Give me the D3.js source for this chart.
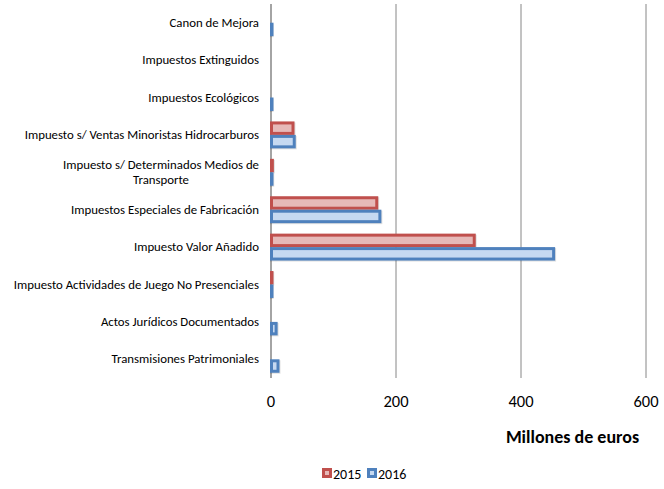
<!DOCTYPE html>
<html><head><meta charset="utf-8">
<script src="https://cdn.jsdelivr.net/npm/d3@7"></script>
<style>
body{margin:0;background:#fff;}
text{font-family:Carlito,Lato,"Open Sans",sans-serif;fill:#000;}
</style></head>
<body><svg id="c" width="664" height="489"></svg>
<script>
const categories = [
  ["Canon de Mejora"],
  ["Impuestos Extinguidos"],
  ["Impuestos Ecológicos"],
  ["Impuesto s/ Ventas Minoristas Hidrocarburos"],
  ["Impuesto s/ Determinados Medios de", "Transporte"],
  ["Impuestos Especiales de Fabricación"],
  ["Impuesto Valor Añadido"],
  ["Impuesto Actividades de Juego No Presenciales"],
  ["Actos Jurídicos Documentados"],
  ["Transmisiones Patrimoniales"]
];
const values2015 = [0, 0, 0, 36, 3, 170, 326, 2, 0, 0];
const values2016 = [1, 0, 1, 38, 2, 175, 453, 1, 9, 12];
const seriesNames = ["2015", "2016"];
const xTicks = [0, 200, 400, 600];
const axisTitle = "Millones de euros";

const fills = ["#e6b9b8", "#c6d9f1"];
const strokes = ["#c0504d", "#4f81bd"];

const svg = d3.select("#c");
const pL = 271, pR = 646, pT = 4, pB = 378;
const x = d3.scaleLinear().domain([0, 600]).range([pL, pR]);
const y = d3.scaleBand().domain(d3.range(categories.length)).range([pT, pB]).paddingInner(0.28).paddingOuter(0.14);
const ys = d3.scaleBand().domain([0, 1]).range([0, y.bandwidth()]);

// gridlines
svg.append("g").selectAll("line").data(xTicks).join("line")
  .attr("x1", d => x(d)).attr("x2", d => x(d))
  .attr("y1", pT).attr("y2", pB)
  .attr("stroke", "#868686").attr("stroke-width", d => d===0?1.5:1);

// tick labels
svg.append("g").selectAll("text").data(xTicks).join("text")
  .attr("x", d => x(d)).attr("y", 407).attr("text-anchor", "middle")
  .attr("font-size", 16.5).text(d => d);

svg.append("text").attr("x", 572.5).attr("y", 443).attr("text-anchor", "middle")
  .attr("font-size", 18).attr("font-weight", "bold").text(axisTitle);

// bars
const series = [values2015, values2016];
series.forEach((vals, s) => {
  const data = vals.map((v, i) => ({v, i})).filter(d => d.v > 0);
  const g = svg.append("g");
  g.selectAll("rect.sh").data(data).join("rect")
    .attr("x", x(0) + 0.5).attr("y", d => y(d.i) + ys(s) + 2.5)
    .attr("width", d => Math.max(0.5, x(d.v) - x(0)))
    .attr("height", ys.bandwidth() - 3)
    .attr("fill", "none").attr("stroke", "#000").attr("stroke-opacity", 0.12).attr("stroke-width", 3);
  g.selectAll("rect.b").data(data).join("rect")
    .attr("x", x(0) + 0.5).attr("y", d => y(d.i) + ys(s) + 1.5)
    .attr("width", d => Math.max(0.5, x(d.v) - x(0) - 1))
    .attr("height", ys.bandwidth() - 3)
    .attr("fill", fills[s]).attr("stroke", strokes[s]).attr("stroke-width", 3);
});

// category labels
const lab = svg.append("g");
categories.forEach((lines, i) => {
  const cy = y(i) + y.bandwidth() / 2;
  const lh = 14.5;
  const t0 = cy - (lines.length - 1) * lh / 2 + 4;
  const first = lab.append("text").attr("x", 259).attr("y", t0).attr("text-anchor", "end")
    .attr("font-size", 12.8).text(lines[0]);
  if (lines.length > 1) {
    const w = first.node().getComputedTextLength();
    for (let k = 1; k < lines.length; k++) {
      lab.append("text").attr("x", 259 - w / 2).attr("y", t0 + k * lh).attr("text-anchor", "middle")
        .attr("font-size", 12.8).text(lines[k]);
    }
  }
});

// legend
const leg = svg.append("g");
const legX = [322, 367];
seriesNames.forEach((n, s) => {
  leg.append("rect").attr("x", legX[s] + 1.5).attr("y", 469.5).attr("width", 7).attr("height", 7)
    .attr("fill", fills[s]).attr("stroke", strokes[s]).attr("stroke-width", 3);
  leg.append("text").attr("x", legX[s] + 11).attr("y", 479).attr("font-size", 14).text(n);
});
</script></body></html>
